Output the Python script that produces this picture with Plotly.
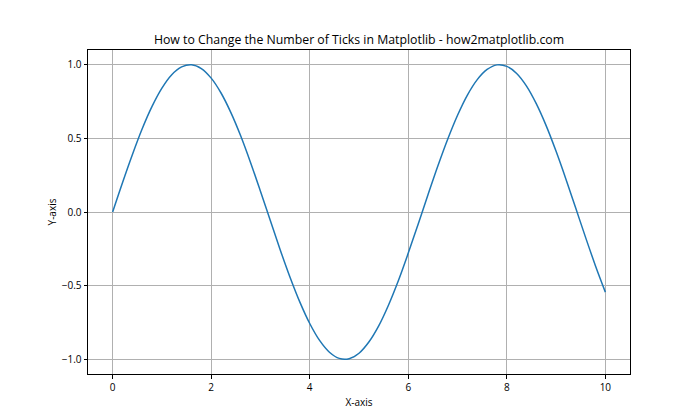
import plotly.graph_objects as go

# Values
x_vals = [0.0, 0.2, 0.4, 0.6, 0.8, 1.0, 1.2, 1.4, 1.6, 1.8, 2.0, 2.2, 2.4, 2.6, 2.8, 3.0,
          3.2, 3.4, 3.6, 3.8, 4.0, 4.2, 4.4, 4.6, 4.8, 5.0, 5.2, 5.4, 5.6, 5.8, 6.0,
          6.2, 6.4, 6.6, 6.8, 7.0, 7.2, 7.4, 7.6, 7.8, 8.0, 8.2, 8.4, 8.6, 8.8, 9.0,
          9.2, 9.4, 9.6, 9.8, 10.0]
y_vals = [0.0, 0.199, 0.389, 0.565, 0.717, 0.841, 0.932, 0.985, 1.0, 0.974, 0.909,
          0.808, 0.675, 0.516, 0.335, 0.141, -0.058, -0.256, -0.443, -0.612, -0.757,
          -0.872, -0.952, -0.994, -0.996, -0.959, -0.883, -0.773, -0.631, -0.465, -0.279,
          -0.083, 0.117, 0.312, 0.494, 0.657, 0.794, 0.899, 0.968, 0.999, 0.989,
          0.941, 0.855, 0.734, 0.585, 0.412, 0.223, 0.025, -0.174, -0.366, -0.544]
x_ticks = [0, 2, 4, 6, 8, 10]
y_ticks = [-1.0, -0.5, 0.0, 0.5, 1.0]

font_family = "Open Sans, DejaVu Sans, sans-serif"

fig = go.Figure()
fig.add_trace(go.Scatter(x=x_vals, y=y_vals, mode="lines", line_shape="spline",
                         line=dict(color="#1f77b4", width=1.5), showlegend=False))

axis_common = dict(showline=True, linecolor="black", linewidth=1, mirror=True,
                   showgrid=True, gridcolor="#b0b0b0", gridwidth=0.8,
                   ticks="outside", ticklen=3.5, tickcolor="black", tickwidth=0.8,
                   zeroline=False, tickfont=dict(size=10, color="black", family=font_family))

fig.update_layout(
    width=700, height=420,
    margin=dict(l=88, r=70, t=50, b=46),
    paper_bgcolor="white", plot_bgcolor="white",
    font=dict(family=font_family, color="black"),
    title=dict(text="How to Change the Number of Ticks in Matplotlib - how2matplotlib.com",
               x=(88 + 630) / 2 / 700, xanchor="center", y=1 - 40 / 420, yanchor="middle",
               font=dict(size=12.3, color="black", family=font_family)),
    xaxis=dict(range=[-0.5, 10.5], tickvals=x_ticks,
               title=dict(text="X-axis", font=dict(size=10), standoff=6), **axis_common),
    yaxis=dict(range=[-1.1, 1.1], tickvals=y_ticks, tickformat=".1f",
               title=dict(text="Y-axis", font=dict(size=10), standoff=3), **axis_common),
)

fig.write_html("out.html")
